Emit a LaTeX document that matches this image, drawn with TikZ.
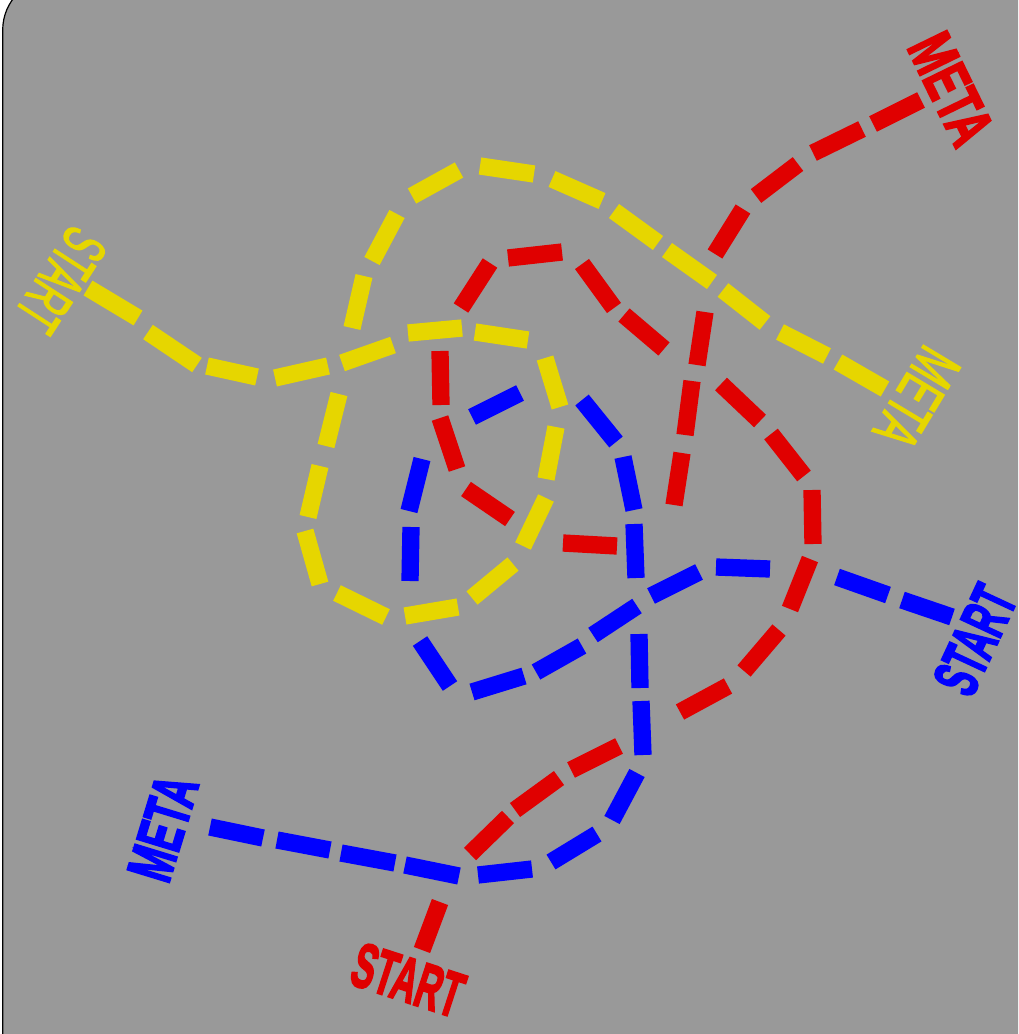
\documentclass[tikz,border=0pt]{standalone}
\usepackage{fontspec}
\setmainfont{Liberation Sans}
\newfontfamily\ylabelfont[FakeBold=2.5]{Liberation Sans}
\newfontfamily\blabelfont[FakeBold=3.5]{Liberation Sans Bold}
\usepackage{graphicx}
\definecolor{bggray}{RGB}{153,153,153}
\definecolor{kyellow}{RGB}{230,214,0}
\definecolor{kred}{RGB}{224,0,0}
\definecolor{kblue}{RGB}{0,0,255}
\tikzset{
  dashseg/.style={line width=17.3pt, line cap=butt},
  ydash/.style={dashseg, draw=kyellow},
  rdash/.style={dashseg, draw=kred},
  bdash/.style={dashseg, draw=kblue},
  lbl/.style={inner sep=0pt, font=\fontsize{63}{63}\selectfont},
}
\begin{document}
\begin{tikzpicture}[x=1pt,y=-1pt]
\useasboundingbox (0,0) rectangle (1018,1034);
\clip (0,0) rectangle (1018,1034);
\path[fill=bggray, draw=black, line width=1.2pt, rounded corners=52pt] (2.7,-22) rectangle (1080,1100);

% yellow path
\foreach \a/\b/\c/\d in {88/288/138/318, 148/332/197/365, 207/366/257/377, 275/378/328/366,
  342/363/393/345, 408/333/462/328, 475/332/528/340, 545/358/560/407, 556/427/546/479,
  546/498/523/546, 513/564/472/598, 458/607/405/616, 386/617/337/593, 320/584/305/531,
  308/517/320/466, 326/446/339/394, 352/328/364/276, 372/261/397/214, 412/196/459/170,
  480/166/534/174, 552/179/602/201, 614/211/658/243, 667/250/712/282, 723/290/765/323,
  780/332/827/356, 838/362/885/389}
  \draw[ydash] (\a,\b) -- (\c,\d);

% red path
\foreach \a/\b/\c/\d in {422/950/440/902, 470/854/508/817, 515/810/559/778, 571/770/619/746,
  680/712/728/686, 744/671/779/630, 790/609/810/559, 812/490/813/544, 771/434/804/476,
  721/384/760/421, 624/315/664/349, 582/264/614/308, 508/258/562/252, 490/263/461/308,
  440/351/441/405, 440/418/457/469, 466/489/510/519, 563/543/617/546, 682/453/674/505,
  692/381/685/435, 705/312/697/365, 743/209/715/254, 756/196/798/164, 813/153/862/129,
  873/124/921/100}
  \draw[rdash] (\a,\b) -- (\c,\d);

% blue path
\foreach \a/\b/\c/\d in {902/600/952/617, 837/577/888/595, 716/567/770/569, 651/596/699/572,
  593/635/637/606, 536/672/582/646, 472/692/524/676, 420/641/450/686, 411/527/410/581,
  422/459/409/511, 472/417/520/393, 582/400/616/442, 623/457/634/510, 634/524/636/578,
  639/634/640/688, 641/701/643/755, 637/773/612/820, 597/834/551/862, 532/869/478/875,
  459/876/405/865, 395/863/341/853, 330/850/277/840, 263/838/210/827}
  \draw[bdash] (\a,\b) -- (\c,\d);

% labels
\node[lbl, text=kyellow, rotate=-123] (ystart) at (61,280) {\scalebox{0.54}[1]{\ylabelfont START}};
\node[lbl, text=kyellow, rotate=-121] (ymeta) at (917,398) {\scalebox{0.61}[1]{\ylabelfont META}};
\node[lbl, text=kred, rotate=-64] (rmeta) at (951,89) {\scalebox{0.66}[1]{\blabelfont META}};
\node[lbl, text=kred, rotate=-18] (rstart) at (408,980) {\scalebox{0.55}[1]{\blabelfont START}};
\node[lbl, text=kblue, rotate=73] (bmeta) at (163,828) {\scalebox{0.61}[1]{\blabelfont META}};
\node[lbl, text=kblue, rotate=65] (bstart) at (975,640) {\scalebox{0.54}[1]{\blabelfont START}};
\end{tikzpicture}
\end{document}
